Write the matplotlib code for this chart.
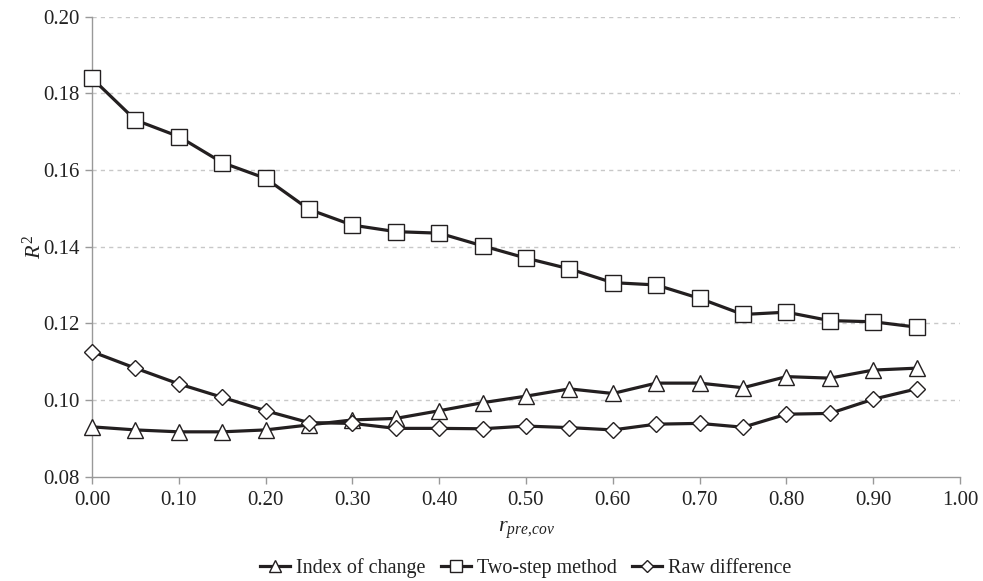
import matplotlib
matplotlib.use("Agg")
import matplotlib.pyplot as plt

x = [0.00, 0.05, 0.10, 0.15, 0.20, 0.25, 0.30, 0.35, 0.40, 0.45,
     0.50, 0.55, 0.60, 0.65, 0.70, 0.75, 0.80, 0.85, 0.90, 0.95]
index_of_change = [0.0930, 0.0922, 0.0917, 0.0917, 0.0922, 0.0935, 0.0948, 0.0952, 0.0972, 0.0993,
                   0.1010, 0.1029, 0.1017, 0.1044, 0.1044, 0.1032, 0.1061, 0.1057, 0.1078, 0.1083]
two_step = [0.1839, 0.1730, 0.1687, 0.1619, 0.1578, 0.1497, 0.1456, 0.1439, 0.1435, 0.1402,
            0.1370, 0.1342, 0.1306, 0.1300, 0.1265, 0.1223, 0.1229, 0.1207, 0.1204, 0.1190]
raw_diff = [0.1126, 0.1083, 0.1042, 0.1007, 0.0972, 0.0941, 0.0939, 0.0926, 0.0926, 0.0925,
            0.0932, 0.0928, 0.0922, 0.0937, 0.0939, 0.0929, 0.0963, 0.0965, 0.1002, 0.1029]
xticks = [0.0, 0.1, 0.2, 0.3, 0.4, 0.5, 0.6, 0.7, 0.8, 0.9, 1.0]
yticks = [0.08, 0.10, 0.12, 0.14, 0.16, 0.18, 0.20]

plt.rcParams['font.family'] = ['Liberation Serif', 'DejaVu Serif']
plt.rcParams['mathtext.fontset'] = 'custom'
plt.rcParams['mathtext.it'] = 'Liberation Serif:italic'
plt.rcParams['mathtext.rm'] = 'Liberation Serif'

fig = plt.figure(figsize=(9.83, 5.81), dpi=100)
ax = fig.add_axes([92/983, 1 - 476.7/581, (960 - 92)/983, (476.7 - 16.5)/581])

lc = '#231f20'
kw = dict(color=lc, linewidth=2.3, markerfacecolor='white', markeredgecolor=lc,
          markeredgewidth=1.0, zorder=3, clip_on=False)
ax.plot(x, index_of_change, marker='^', markersize=11, label='Index of change', **kw)
ax.plot(x, two_step, marker='s', markersize=11, label='Two-step method', **kw)
ax.plot(x, raw_diff, marker='D', markersize=8, label='Raw difference', **kw)

ax.set_xlim(0, 1.0)
ax.set_ylim(0.08, 0.20)
ax.set_xticks(xticks)
ax.set_yticks(yticks)
ax.set_xticklabels([f"{v:.2f}" for v in xticks])
ax.set_yticklabels([f"{v:.2f}" for v in yticks])
ax.tick_params(axis='both', labelsize=15, colors='#999999', labelcolor='#222222',
               direction='out', length=5, width=1)
ax.tick_params(axis='x', pad=5)
ax.tick_params(axis='y', pad=4)

for s in ['top', 'right']:
    ax.spines[s].set_visible(False)
for s in ['left', 'bottom']:
    ax.spines[s].set_color('#999999')
    ax.spines[s].set_linewidth(1.0)

for v in yticks[1:]:
    ax.axhline(v, color='#c8c8c8', linestyle=(0, (3, 3)), linewidth=1.0, zorder=1)

ax.set_xlabel(r'$r_{pre{,}cov}$', fontsize=16, labelpad=7, color='#222222')
ax.set_ylabel(r'$R^2$', fontsize=16, labelpad=-2, color='#222222')

ax.legend(loc='center', bbox_to_anchor=(526/983, 1 - 568/581),
          bbox_transform=fig.transFigure, ncol=3,
          frameon=False, fontsize=14.5, handlelength=1.5, handletextpad=0.3,
          columnspacing=0.75, markerscale=0.8, labelcolor='#222222')

fig.savefig('out.png', dpi=100)
